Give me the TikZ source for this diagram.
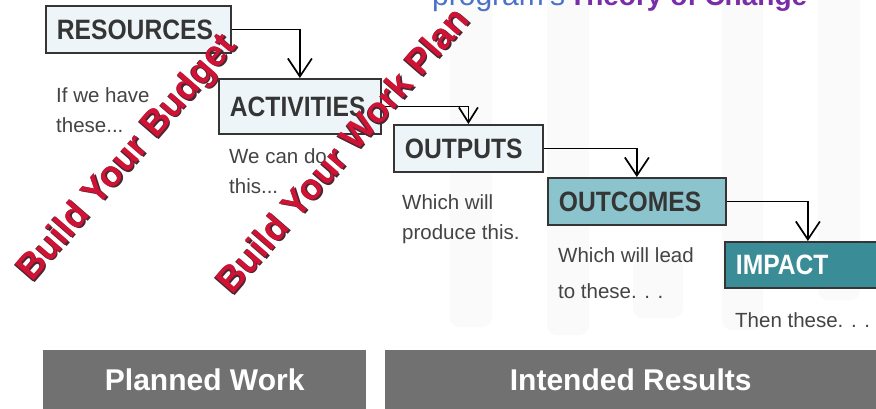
\documentclass[tikz,border=0pt]{standalone}
\usepackage{fontspec}
\setmainfont{Liberation Sans}
\newfontfamily\titlefont[FakeStretch=0.88]{Liberation Sans Bold}
\usetikzlibrary{arrows.meta}
\definecolor{boxline}{HTML}{353535}
\definecolor{titlegray}{HTML}{353535}
\definecolor{bodygray}{HTML}{444444}
\definecolor{lightfill}{HTML}{EEF5F8}
\definecolor{midteal}{HTML}{8CC4CD}
\definecolor{darkteal}{HTML}{3A8D96}
\definecolor{bargray}{HTML}{717171}
\definecolor{wmred}{RGB}{208,18,52}
\definecolor{wmdark}{HTML}{4A2633}
\definecolor{stripe}{HTML}{FAFAFA}
\definecolor{progblue}{HTML}{4A72C8}
\definecolor{tocpurple}{HTML}{7A2DA8}
\begin{document}
\begin{tikzpicture}[x=1pt,y=-1pt,
  tbox/.style={draw=boxline, line width=1.8pt, anchor=north west, inner xsep=11pt, inner ysep=0pt, align=left, text=titlegray, font=\titlefont\fontsize{28}{30}\selectfont, minimum height=47pt},
  desc/.style={anchor=north west, inner sep=0pt, align=left, text=bodygray, font=\fontsize{20.5}{30}\selectfont},
  arr/.style={draw=black, line width=1.7pt, -{Straight Barb[length=18pt,width=24pt]}},
  bar/.style={fill=bargray, anchor=north west, text=white, font=\bfseries\fontsize{30}{32}\selectfont, minimum height=60pt, inner sep=0pt},
  wm/.style={rotate=49, anchor=base west, inner sep=0pt, text=wmred, font=\bfseries\fontsize{#1}{#1}\selectfont},
  wmshade/.style={wm=#1, text=wmdark}]
\useasboundingbox (0,0) rectangle (876,408);
\fill[white] (0,0) rectangle (876,408);
% faint background bands
\fill[stripe, rounded corners=10pt] (450,-10) rectangle (492,327);
\fill[stripe, rounded corners=10pt] (547,-10) rectangle (589,335);
\fill[stripe, rounded corners=10pt] (633,250) rectangle (683,318);
\fill[stripe, rounded corners=10pt] (722,-10) rectangle (763,330);
\fill[stripe, rounded corners=10pt] (818,-10) rectangle (860,300);
% cut-off title
\node[anchor=base west, inner sep=0pt, text=progblue, font=\fontsize{30}{32}\selectfont] (prog) at (432,5) {program's};
\node[anchor=base west, inner sep=0pt, text=tocpurple, font=\bfseries\fontsize{28}{30}\selectfont] (toc) at (569,5) {Theory of Change};
% boxes
\node[tbox, fill=lightfill, text width=163pt] (res) at (45,5) {RESOURCES};
\node[tbox, fill=lightfill, text width=140pt, minimum height=55pt] (act) at (218,78) {ACTIVITIES};
\node[tbox, fill=lightfill, text width=127pt] (out) at (393,124) {OUTPUTS};
\node[tbox, fill=midteal, text width=156pt] (outc) at (547,177) {OUTCOMES};
\node[tbox, fill=darkteal, text=white, text width=144pt, minimum height=46pt] (imp) at (724,241) {IMPACT};
% connectors
\draw[arr] (res.east) -| (act.north);
\draw[arr, -{Straight Barb[length=15pt,width=19pt]}] (act.east) -| (out.north);
\draw[arr] (out.east) -| (outc.north);
\draw[arr] (outc.east) -| (imp.north);
% descriptions
\node[desc] (resd) at (56,87) {If we have\\these...};
\node[desc] (actd) at (229,148) {We can do\\this...};
\node[desc] (outd) at (402,194) {Which will\\produce this.};
\node[desc, font=\fontsize{20.5}{36.5}\selectfont] (outcd) at (558,247) {Which will lead\\to these. . .};
\node[desc] (impd) at (735,312) {Then these. . .};
% watermarks
\node[wmshade=36] (wm1s) at (33.4,284.4) {Build Your Budget};
\node[wmshade=36] (wm1t) at (31.4,283.4) {Build Your Budget};
\node[wm=36] (wm1) at (32,283) {Build Your Budget};
\node[wmshade=36] (wm2s) at (233.4,297.4) {Build Your Work Plan};
\node[wmshade=36] (wm2t) at (231.4,296.4) {Build Your Work Plan};
\node[wm=36] (wm2) at (232,296) {Build Your Work Plan};
% bottom bars
\node[bar, minimum width=323pt] (planned) at (43,350) {Planned Work};
\node[bar, minimum width=491pt] (intended) at (385,350) {Intended Results};
\end{tikzpicture}
\end{document}
